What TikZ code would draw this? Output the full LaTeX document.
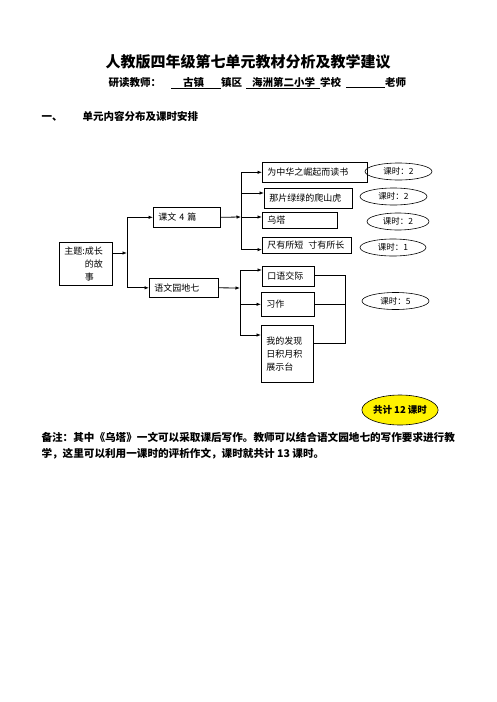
\documentclass[tikz,border=0pt]{standalone}
\usepackage{fontspec}
\setmainfont{Noto Sans CJK SC}
\usetikzlibrary{positioning,calc,arrows.meta,shapes.geometric}

\begin{document}
\begin{tikzpicture}[x=1pt, y=-1pt,
    box/.style={draw, rectangle, line width=0.6pt, anchor=north west, inner xsep=5pt, inner ysep=0pt, align=left, font=\fontsize{9}{13}\selectfont},
    ks/.style={draw, ellipse, line width=0.6pt, inner sep=0pt, font=\fontsize{8.5}{10}\selectfont},
    arr/.style={-{Latex[length=4.5pt,width=3.5pt]}, line width=0.8pt},
    lnk/.style={line width=0.6pt}]
    \useasboundingbox (0,0) rectangle (496,702);

    % heading
    \node[font=\bfseries\fontsize{15}{18}\selectfont] (title) at (248,62) {人教版四年级第七单元教材分析及教学建议};
    \node[font=\bfseries\fontsize{10.5}{13}\selectfont, anchor=west] (teacher) at (105,83) {研读教师：\hspace{10pt}\underline{\hspace{12pt}古镇\hspace{17pt}}镇区\hspace{4pt}\underline{\hspace{6pt}海洲第二小学\hspace{5pt}}学校\hspace{5pt}\underline{\hspace{39pt}}老师};
    \node[font=\bfseries\fontsize{10.5}{13}\selectfont, anchor=west] (sec) at (38,116) {一、\hspace{20pt}单元内容分布及课时安排};

    % boxes
    \node[box, text width=43pt, minimum height=43pt] (theme) at (59,242) {主题:成长\\\phantom{主题:}的故\\\phantom{主题:}事};
    \node[box, text width=57pt, minimum height=20pt] (kewen) at (153,207) {课文 4 篇};
    \node[box, text width=59pt, minimum height=19pt] (yuwen) at (149,278) {语文园地七};

    \node[box, text width=95pt, minimum height=20pt] (b1) at (262,162) {为中华之崛起而读书};
    \node[box, text width=78pt, minimum height=20pt] (b2) at (264,188) {那片绿绿的爬山虎};
    \node[box, text width=65pt, minimum height=16pt] (b3) at (262,212) {乌塔};
    \node[box, text width=79pt, minimum height=16pt] (b4) at (262,237) {尺有所短\hspace{5pt}寸有所长};

    \node[box, text width=42pt, minimum height=20pt] (k1) at (262,266) {口语交际};
    \node[box, text width=43pt, minimum height=24pt] (xz) at (261,292) {习作};
    \node[box, text width=42pt, minimum height=57pt] (wd) at (261,325) {我的发现\\日积月积\\展示台};

    % class hours
    \node[ks, minimum width=67pt, minimum height=17pt] (t1) at (398.5,171.5) {课时：2};
    \node[ks, minimum width=67pt, minimum height=17pt] (t2) at (393.5,196.5) {课时：2};
    \node[ks, minimum width=62pt, minimum height=17pt] (t3) at (398,221.5) {课时：2};
    \node[ks, minimum width=66pt, minimum height=17pt] (t4) at (393,247.5) {课时：1};
    \node[ks, minimum width=67pt, minimum height=17pt] (t5) at (395.5,301) {课时：5};
    \node[ks, fill=yellow, minimum width=66pt, minimum height=30pt, font=\bfseries\fontsize{9.5}{11}\selectfont] (total) at (400,410) {共计 12 课时};

    % connectors
    \coordinate (f1) at (127,253);
    \coordinate (f2) at (241,217);
    \coordinate (f3) at (240,288);
    \coordinate (bx) at (345,0);

    \draw[arr] ($(theme.north east)+(0,11)$) -- (f1);
    \draw[arr] (f1) |- (kewen.west);
    \draw[arr] (f1) |- (yuwen.west);

    \draw[arr] (kewen.east) -- (f2);
    \draw[arr] (f2) |- (b1.west);
    \draw[arr] (f2) |- ($(b2.north west)+(0,5)$);
    \draw[arr] (f2) -- (f2 -| b3.west);
    \draw[arr] (f2) |- ($(b4.south west)+(0,-4)$);

    \draw[arr] (yuwen.east) -- (f3);
    \draw[arr] (f3) |- ($(k1.north west)+(0,4)$);
    \draw[arr] (f3) |- (xz.west);
    \draw[arr] (f3) |- ($(wd.north west)+(0,10)$);

    \coordinate (r1) at ($(k1.north east)+(0,9)$);
    \coordinate (r3) at ($(wd.north east)+(0,18)$);
    \draw[lnk] (r1) -- (r1 -| bx) -- (r3 -| bx) -- (r3);
    \draw[lnk] (xz.east) -- (xz.east -| bx);

    % remark
    \node[anchor=base west, align=left, font=\bfseries\fontsize{10.6}{16}\selectfont] (note) at (38,457) {备注：其中《乌塔》一文可以采取课后写作。教师可以结合语文园地七的写作要求进行教\\学，这里可以利用一课时的评析作文，课时就共计 13 课时。};
\end{tikzpicture}
\end{document}
